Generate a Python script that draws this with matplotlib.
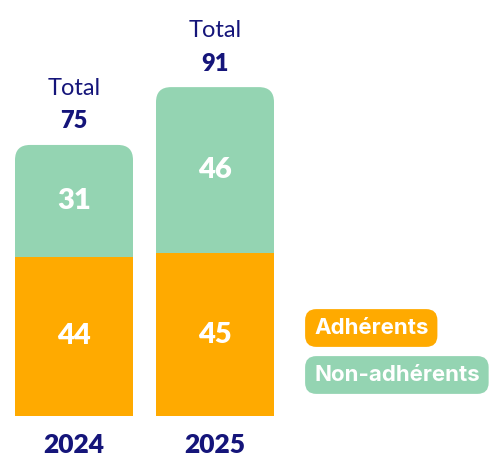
import matplotlib.pyplot as plt
from matplotlib.patches import FancyBboxPatch, Rectangle
import numpy as np

years = ['2024', '2025']
adherents = [44, 45]
non_adherents = [31, 46]
totals = [a + b for a, b in zip(adherents, non_adherents)]

ORANGE = '#FFAA00'
GREEN = '#94D4B2'
NAVY = '#15157A'

plt.rcParams['font.family'] = ['Lato', 'DejaVu Sans']

fig = plt.figure(figsize=(4.94, 4.55), dpi=100)
ax = fig.add_axes([0, 39 / 455, 1, 416 / 455])

px_x = 141.0  # pixels per x unit
px_y = 3.614  # pixels per y unit
ax.set_xlim(-74 / px_x, (494 - 74) / px_x)
ax.set_ylim(0, 416 / px_y)
width = 118 / px_x
rad = 15 / px_x

x = np.arange(len(years))
for i in x:
    left = i - width / 2
    # green top with rounded corners, orange drawn over its lower part
    top = FancyBboxPatch((left, 0), width, totals[i],
                         boxstyle=f'round,pad=0,rounding_size={rad}',
                         mutation_aspect=px_x / px_y,
                         facecolor=GREEN, edgecolor='none')
    ax.add_patch(top)
    ax.add_patch(Rectangle((left, 0), width, adherents[i],
                           facecolor=ORANGE, edgecolor='none'))
    ax.text(i, adherents[i] / 2, str(adherents[i]), ha='center', va='center',
            color='white', fontsize=21, fontweight='heavy')
    ax.text(i, adherents[i] + non_adherents[i] / 2, str(non_adherents[i]),
            ha='center', va='center', color='white', fontsize=21, fontweight='heavy')
    ax.annotate(str(totals[i]), (i, totals[i]), xytext=(0, 17),
                textcoords='offset points', ha='center', va='center',
                color=NAVY, fontsize=17, fontweight='heavy')
    ax.annotate('Total', (i, totals[i]), xytext=(0, 41),
                textcoords='offset points', ha='center', va='center',
                color=NAVY, fontsize=17)

ax.set_xticks(x, years)
ax.tick_params(axis='x', length=0, pad=12, labelsize=19, labelcolor=NAVY)
for lab in ax.get_xticklabels():
    lab.set_fontweight('heavy')
ax.set_yticks([])
for s in ax.spines.values():
    s.set_visible(False)

legend_font = ['Inter', 'DejaVu Sans']
fig.text(314 / 494, 1 - 328 / 455, 'Adhérents', ha='left', va='center',
         color='white', fontsize=16, fontweight='bold', family=legend_font,
         bbox=dict(boxstyle='round,pad=0.4,rounding_size=0.5',
                   facecolor=ORANGE, edgecolor='none'))
fig.text(314 / 494, 1 - 375 / 455, 'Non-adhérents', ha='left', va='center',
         color='white', fontsize=16, fontweight='bold', family=legend_font,
         bbox=dict(boxstyle='round,pad=0.4,rounding_size=0.5',
                   facecolor=GREEN, edgecolor='none'))

fig.savefig('out.png', dpi=100)
